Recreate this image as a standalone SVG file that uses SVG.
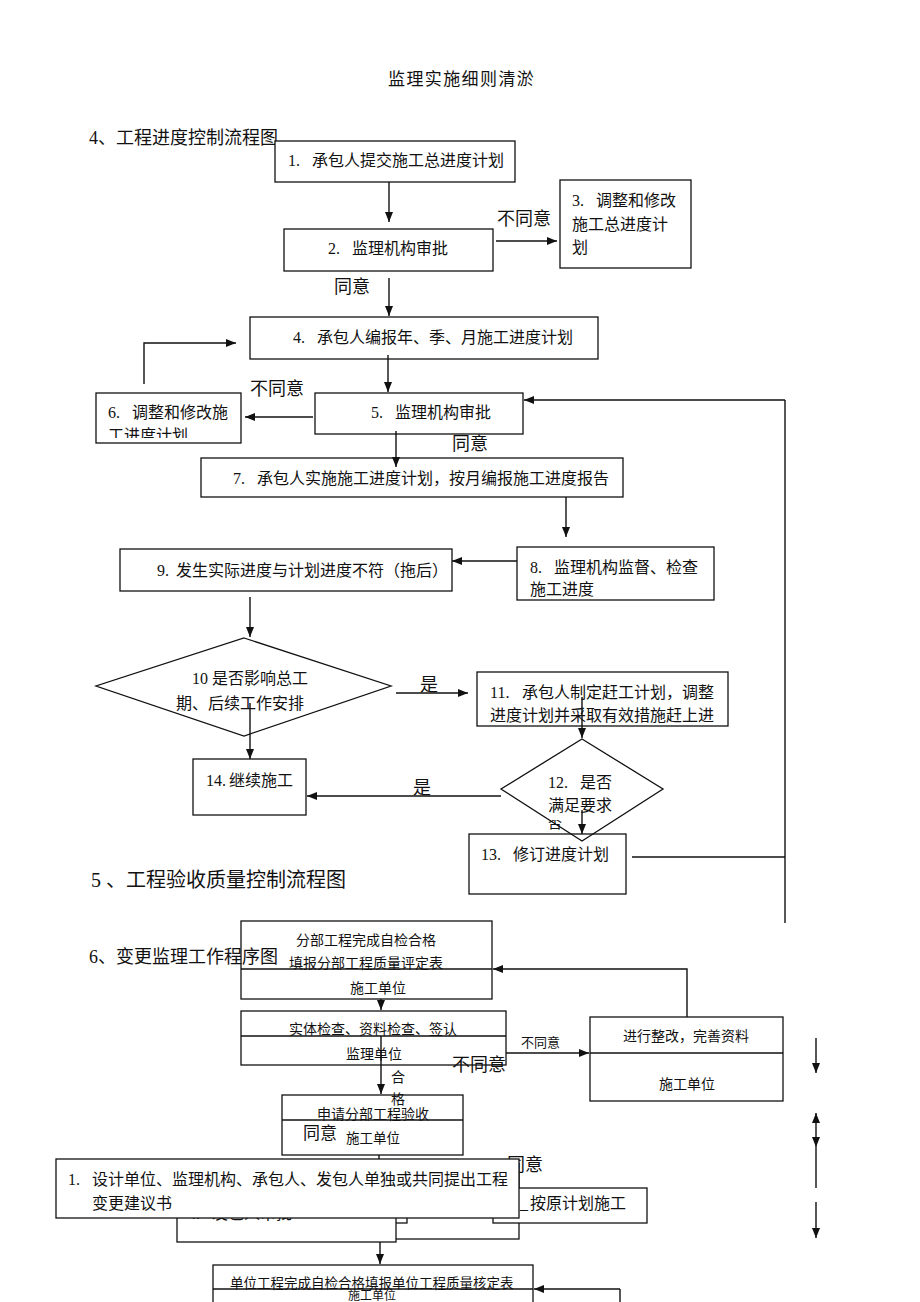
<svg xmlns="http://www.w3.org/2000/svg" width="920" height="1302" viewBox="0 0 920 1302">
<style>
.bx{fill:#fff;stroke:#111;stroke-width:1.3}
.nb{fill:none;stroke:#111;stroke-width:1.3}
.ln{fill:none;stroke:#111;stroke-width:1.4}
.ar{fill:none;stroke:#111;stroke-width:1.4;marker-end:url(#ah)}
.t{font-family:"Liberation Serif","Noto Sans CJK SC",serif;font-size:16px;fill:#111}
.s{font-family:"Liberation Serif","Noto Sans CJK SC",serif;font-size:14px;fill:#111}
.lb{font-family:"Noto Sans CJK SC",sans-serif;font-size:18px;fill:#111}
.hd{font-family:"Liberation Serif","Noto Sans CJK SC",serif;font-size:18px;fill:#111}
</style>
<defs>
<marker id="ah" markerWidth="10" markerHeight="8" refX="10" refY="4" orient="auto-start-reverse" markerUnits="userSpaceOnUse">
<path d="M0,0 L10,4 L0,8 z" fill="#111"/>
</marker>
<clipPath id="c6"><rect x="96" y="418" width="145" height="20"/></clipPath>
<clipPath id="cf"><rect x="540" y="820" width="30" height="15"/></clipPath>
</defs>
<rect width="920" height="1302" fill="#fff"/>

<text x="388" y="85" class="t" style="font-size:17px;letter-spacing:1.4px">监理实施细则清淤</text>
<text x="89" y="144" class="hd">4、工程进度控制流程图</text>

<g id="n1"><rect class="bx" x="275" y="141" width="240" height="41"/><text class="t" y="166"><tspan x="288">1.</tspan><tspan x="312">承包人提交施工总进度计划</tspan></text></g>
<g id="n2"><rect class="bx" x="284" y="229" width="209" height="42"/><text class="t" y="254"><tspan x="328">2.</tspan><tspan x="352">监理机构审批</tspan></text></g>
<g id="n3"><rect class="bx" x="560" y="180" width="131" height="88"/><text class="t" y="206"><tspan x="572">3.</tspan><tspan x="596">调整和修改</tspan></text><text class="t" x="572" y="230">施工总进度计</text><text class="t" x="572" y="253">划</text></g>
<g id="n4"><rect class="bx" x="250" y="317" width="348" height="42"/><text class="t" y="343"><tspan x="293">4.</tspan><tspan x="317">承包人编报年、季、月施工进度计划</tspan></text></g>
<g id="n5"><rect class="bx" x="315" y="393" width="208" height="41"/><text class="t" y="418"><tspan x="371">5.</tspan><tspan x="395">监理机构审批</tspan></text></g>
<g id="n6"><rect class="bx" x="96" y="393" width="145" height="50"/><text class="t" y="418"><tspan x="108">6.</tspan><tspan x="132">调整和修改施</tspan></text><text class="t" x="108" y="441" clip-path="url(#c6)">工进度计划</text></g>
<g id="n7"><rect class="bx" x="201" y="458" width="422" height="39"/><text class="t" y="484"><tspan x="233">7.</tspan><tspan x="257">承包人实施施工进度计划，按月编报施工进度报告</tspan></text></g>
<g id="n8"><rect class="bx" x="517" y="547" width="197" height="53"/><text class="t" y="573"><tspan x="530">8.</tspan><tspan x="554">监理机构监督、检查</tspan></text><text class="t" x="530" y="595">施工进度</text></g>
<g id="n9"><rect class="bx" x="120" y="549" width="332" height="42"/><text class="t" y="576"><tspan x="157">9.</tspan><tspan x="176">发生实际进度与计划进度不符（拖后）</tspan></text></g>
<g id="n10"><polygon class="bx" points="244,638 391,686 244,736 96,686"/><text class="t" y="684"><tspan x="192">10</tspan><tspan x="212">是否影响总工</tspan></text><text class="t" x="176" y="709">期、后续工作安排</text></g>
<g id="n11"><rect class="bx" x="477" y="672" width="251" height="54"/><text class="t" y="698"><tspan x="490">11.</tspan><tspan x="522">承包人制定赶工计划，调整</tspan></text><text class="t" x="490" y="721">进度计划并采取有效措施赶上进</text></g>
<g id="n13"><rect class="bx" x="469" y="834" width="157" height="60"/><text class="t" y="860"><tspan x="481">13.</tspan><tspan x="513">修订进度计划</tspan></text></g>
<g id="n12"><polygon class="nb" points="582,739 663,789 582,841 501,789"/><text class="t" y="788"><tspan x="548">12.</tspan><tspan x="580">是否</tspan></text><text class="t" x="548" y="811">满足要求</text><text class="s" x="548" y="828" clip-path="url(#cf)">否</text></g>
<g id="n14"><rect class="bx" x="193" y="759" width="113" height="56"/><text class="t" y="786"><tspan x="206">14.</tspan><tspan x="229">继续施工</tspan></text></g>

<text x="91" y="887" class="hd" style="font-size:20px">5 、工程验收质量控制流程图</text>

<g id="nA"><rect class="bx" x="241" y="921" width="251" height="78"/><line class="nb" x1="241" y1="969" x2="492" y2="969"/><text class="s" x="296" y="945">分部工程完成自检合格</text><text class="s" x="289" y="968">填报分部工程质量评定表</text><text class="s" x="350" y="993">施工单位</text></g>
<text x="89" y="963" class="hd">6、变更监理工作程序图</text>
<g id="nB"><rect class="bx" x="241" y="1011" width="265" height="54"/><line class="nb" x1="241" y1="1036" x2="506" y2="1036"/><text class="s" x="289" y="1034">实体检查、资料检查、签认</text><text class="s" x="346" y="1059">监理单位</text></g>
<g id="nC"><rect class="bx" x="590" y="1017" width="193" height="84"/><line class="nb" x1="590" y1="1053" x2="783" y2="1053"/><text class="s" x="623" y="1041">进行整改，完善资料</text><text class="s" x="659" y="1089">施工单位</text></g>
<g id="nD"><rect class="bx" x="282" y="1095" width="181" height="60"/><line class="nb" x1="282" y1="1120" x2="463" y2="1120"/><text class="s" x="317" y="1119">申请分部工程验收</text><text class="lb" x="303" y="1139" style="font-size:17px">同意</text><text class="s" x="346" y="1143" style="font-size:13.5px">施工单位</text></g>
<text class="lb" x="507" y="1171">同意</text>
<g id="nX"><rect class="bx" x="250" y="1170" width="269" height="69"/></g>
<g id="nY"><rect class="bx" x="250" y="1175" width="157" height="48"/></g>
<g id="n4b"><rect class="bx" x="177" y="1190" width="219" height="52"/><text class="t" y="1219"><tspan x="188">4.</tspan><tspan x="212">发包人审批</tspan></text></g>
<g id="nO"><rect class="bx" x="493" y="1188" width="154" height="35"/><text class="t" y="1209"><tspan x="520">_</tspan><tspan x="530">按原计划施工</tspan></text></g>
<g id="nE"><rect class="bx" x="56" y="1159" width="463" height="59"/><text class="t" y="1185"><tspan x="68">1.</tspan><tspan x="92">设计单位、监理机构、承包人、发包人单独或共同提出工程</tspan></text><text class="t" x="92" y="1209">变更建议书</text></g>
<g id="nF"><rect class="bx" x="213" y="1265" width="320" height="50"/><line class="nb" x1="213" y1="1289" x2="533" y2="1289"/><text class="s" x="230" y="1288" style="font-size:13.5px">单位工程完成自检合格填报单位工程质量核定表</text><text class="s" x="348" y="1300" style="font-size:12px">施工单位</text></g>

<g id="connectors">
<line class="ar" x1="389" y1="182" x2="389" y2="222"/>
<line class="ar" x1="496" y1="241" x2="557" y2="241"/>
<line class="ar" x1="389" y1="278" x2="389" y2="316"/>
<polyline class="ar" points="144,384 144,343 236,343"/>
<line class="ar" x1="388" y1="355" x2="388" y2="392"/>
<line class="ar" x1="313" y1="417" x2="245" y2="417"/>
<line class="ar" x1="396" y1="431" x2="396" y2="467"/>
<line class="ar" x1="566" y1="497" x2="566" y2="537"/>
<line class="ar" x1="517" y1="561" x2="452" y2="561"/>
<line class="ar" x1="250" y1="597" x2="250" y2="637"/>
<line class="ar" x1="250" y1="703" x2="250" y2="759"/>
<line class="ar" x1="396" y1="693" x2="468" y2="693"/>
<line class="ar" x1="582" y1="697" x2="582" y2="738"/>
<line class="ar" x1="501" y1="796" x2="307" y2="796"/>
<line class="ar" x1="582" y1="810" x2="582" y2="834"/>
<line class="ln" x1="632" y1="857" x2="785" y2="857"/>
<line class="ln" x1="785" y1="400" x2="785" y2="923"/>
<line class="ar" x1="785" y1="400" x2="524" y2="400"/>
<line class="ar" x1="381" y1="999" x2="381" y2="1010"/>
<line class="ar" x1="506" y1="1053" x2="589" y2="1053"/>
<polyline class="ar" points="687,1017 687,969 493,969"/>
<line class="ar" x1="381" y1="1036" x2="381" y2="1094"/>
<line class="ln" x1="379" y1="1155" x2="379" y2="1159"/>
<line class="ar" x1="380" y1="1242" x2="380" y2="1264"/>
<line class="ar" x1="620" y1="1289" x2="534" y2="1289"/>
<line class="ln" x1="620" y1="1289" x2="620" y2="1302"/>
<line class="ar" x1="816" y1="1038" x2="816" y2="1073"/>
<line class="ar" x1="816" y1="1113" x2="816" y2="1147" style="marker-start:url(#ah)"/>
<line class="ln" x1="816" y1="1147" x2="816" y2="1188"/>
<line class="ar" x1="816" y1="1202" x2="816" y2="1238"/>
</g>

<g id="labels">
<text class="lb" x="497" y="225">不同意</text>
<text class="lb" x="334" y="293">同意</text>
<text class="lb" x="250" y="395">不同意</text>
<text class="lb" x="452" y="450">同意</text>
<text class="lb" x="420" y="691">是</text>
<text class="lb" x="413" y="794">是</text>
<text class="s" x="521" y="1047" style="font-family:'Noto Sans CJK SC',sans-serif;font-size:13px">不同意</text>
<text class="lb" x="452" y="1071">不同意</text>
<text class="s" x="391" y="1082">合</text>
<text class="s" x="391" y="1104">格</text>
</g>
</svg>
